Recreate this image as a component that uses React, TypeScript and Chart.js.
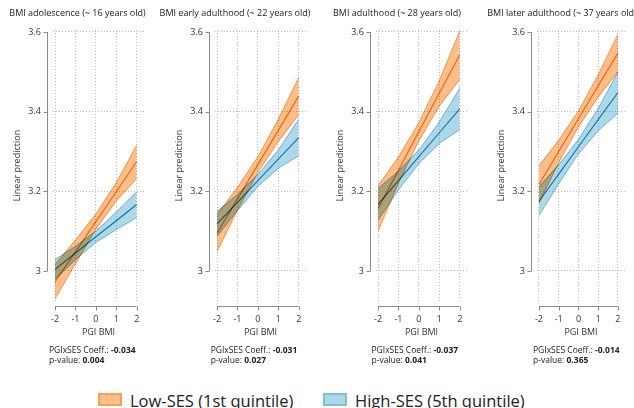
import React, { useEffect, useRef } from "react";
import { Chart, registerables } from "chart.js";
Chart.register(...registerables);

// ---------- data ----------
const pgiValues = [-2, -1, 0, 1, 2];
const xTicks = [-2, -1, 0, 1, 2];
const yTicks = [3, 3.2, 3.4, 3.6];

const panelTitles = [
  "BMI adolescence (~ 16 years old)",
  "BMI early adulthood (~ 22 years old)",
  "BMI adulthood (~ 28 years old)",
  "BMI later adulthood (~ 37 years old)",
];
const coeffs = ["-0.034", "-0.031", "-0.037", "-0.014"];
const pValues = ["0.004", "0.027", "0.041", "0.365"];
const seriesNames = ["Low-SES (1st quintile)", "High-SES (5th quintile)"];

// adolescence (~16)
const low16 = [2.973, 3.048, 3.124, 3.199, 3.275];
const low16Lo = [2.93, 3.018, 3.105, 3.176, 3.232];
const low16Hi = [3.016, 3.078, 3.143, 3.222, 3.316];
const high16 = [3.004, 3.045, 3.086, 3.126, 3.167];
const high16Lo = [2.979, 3.028, 3.072, 3.104, 3.134];
const high16Hi = [3.029, 3.062, 3.1, 3.148, 3.199];

// early adulthood (~22)
const low22 = [3.095, 3.181, 3.267, 3.353, 3.439];
const low22Lo = [3.049, 3.152, 3.247, 3.325, 3.392];
const low22Hi = [3.141, 3.21, 3.287, 3.381, 3.486];
const high22 = [3.118, 3.172, 3.227, 3.281, 3.335];
const high22Lo = [3.087, 3.152, 3.212, 3.258, 3.289];
const high22Hi = [3.149, 3.192, 3.242, 3.304, 3.381];

// adulthood (~28)
const low28 = [3.157, 3.253, 3.35, 3.446, 3.542];
const low28Lo = [3.1, 3.22, 3.327, 3.414, 3.481];
const low28Hi = [3.214, 3.286, 3.373, 3.478, 3.603];
const high28 = [3.167, 3.227, 3.287, 3.347, 3.407];
const high28Lo = [3.127, 3.203, 3.27, 3.32, 3.355];
const high28Hi = [3.207, 3.251, 3.304, 3.374, 3.459];

// later adulthood (~37)
const low37 = [3.217, 3.3, 3.382, 3.465, 3.547];
const low37Lo = [3.17, 3.272, 3.362, 3.437, 3.5];
const low37Hi = [3.264, 3.328, 3.402, 3.493, 3.594];
const high37 = [3.175, 3.243, 3.312, 3.38, 3.448];
const high37Lo = [3.139, 3.219, 3.294, 3.352, 3.396];
const high37Hi = [3.211, 3.267, 3.33, 3.408, 3.5];

const panelData = [
  { low: low16, lowLo: low16Lo, lowHi: low16Hi, high: high16, highLo: high16Lo, highHi: high16Hi },
  { low: low22, lowLo: low22Lo, lowHi: low22Hi, high: high22, highLo: high22Lo, highHi: high22Hi },
  { low: low28, lowLo: low28Lo, lowHi: low28Hi, high: high28, highLo: high28Lo, highHi: high28Hi },
  { low: low37, lowLo: low37Lo, lowHi: low37Hi, high: high37, highLo: high37Lo, highHi: high37Hi },
];

// ---------- style ----------
const FONT = "'Open Sans', 'Noto Sans', sans-serif";
const ORANGE_FILL = "rgb(253,190,135)";
const ORANGE_EDGE = "rgb(248,160,88)";
const ORANGE_LINE = "rgb(242,127,30)";
const BLUE_FILL = "rgb(172,216,232)";
const BLUE_EDGE = "rgb(125,192,218)";
const BLUE_LINE = "rgb(28,135,186)";
const PANEL_X = [0, 161.7, 322.5, 484];
const CANVAS_H = 345;

const pts = (ys: number[]) => pgiValues.map((x, i) => ({ x, y: ys[i] }));

const multiplyPlugin = {
  id: "multiply",
  beforeDatasetsDraw(chart: any) {
    chart.ctx.save();
    chart.ctx.globalCompositeOperation = "multiply";
  },
  afterDatasetsDraw(chart: any) {
    chart.ctx.restore();
  },
};

const axesPlugin = {
  id: "stataAxes",
  afterDraw(chart: any) {
    const { ctx, chartArea, scales } = chart;
    const xs = scales.x;
    const ys = scales.y;
    ctx.save();
    ctx.strokeStyle = "#8a8a8a";
    ctx.lineWidth = 1;
    const ax = Math.round(chartArea.left - 6) + 0.5;
    const yTop = ys.getPixelForValue(yTicks[yTicks.length - 1]);
    const yBot = ys.getPixelForValue(yTicks[0]);
    ctx.beginPath();
    ctx.moveTo(ax, yTop);
    ctx.lineTo(ax, yBot);
    yTicks.forEach((v) => {
      const p = Math.round(ys.getPixelForValue(v)) + 0.5;
      ctx.moveTo(ax, p);
      ctx.lineTo(ax - 4, p);
    });
    const ay = Math.round(chartArea.bottom + 5) + 0.5;
    const xL = xs.getPixelForValue(xTicks[0]);
    const xR = xs.getPixelForValue(xTicks[xTicks.length - 1]);
    ctx.moveTo(xL, ay);
    ctx.lineTo(xR, ay);
    xTicks.forEach((v) => {
      const p = Math.round(xs.getPixelForValue(v)) + 0.5;
      ctx.moveTo(p, ay);
      ctx.lineTo(p, ay + 4);
    });
    ctx.stroke();
    ctx.restore();
  },
};

function Panel({ index }: { index: number }) {
  const ref = useRef<HTMLCanvasElement>(null);
  const width = index === 3 ? 150 : 160;
  useEffect(() => {
    const d = panelData[index];
    const band = (ys: number[], edge: string, fill: any, bg?: string) => ({
      data: pts(ys),
      borderColor: edge,
      borderWidth: 0.8,
      backgroundColor: bg || "transparent",
      pointRadius: 0,
      fill,
      order: 1,
      tension: 0,
    });
    const gridOpts = { color: "#bdbdbd", drawTicks: false, lineWidth: 1 };
    const borderOpts = { display: false, dash: [1, 2] };
    const chart = new Chart(ref.current!, {
      type: "line",
      data: {
        datasets: [
          band(d.lowHi, ORANGE_EDGE, false),
          band(d.lowLo, ORANGE_EDGE, "-1", ORANGE_FILL),
          band(d.highHi, BLUE_EDGE, false),
          band(d.highLo, BLUE_EDGE, "-1", BLUE_FILL),
          { data: pts(d.low), borderColor: ORANGE_LINE, borderWidth: 1.1, pointRadius: 0, fill: false, order: 0 },
          { data: pts(d.high), borderColor: BLUE_LINE, borderWidth: 1.1, pointRadius: 0, fill: false, order: 0 },
        ] as any,
      },
      options: {
        animation: false,
        responsive: false,
        maintainAspectRatio: false,
        devicePixelRatio: 1,
        layout: { padding: { top: 30, right: width - 144, bottom: 0, left: 0 } },
        plugins: { legend: { display: false }, tooltip: { enabled: false }, title: { display: false } },
        scales: {
          x: {
            type: "linear",
            min: -2.1,
            max: 2.357,
            afterBuildTicks: (s: any) => {
              s.ticks = xTicks.map((v) => ({ value: v }));
            },
            afterFit: (s: any) => {
              s.height = 44;
            },
            grid: gridOpts,
            border: borderOpts,
            ticks: {
              padding: 13,
              color: "#333",
              font: { family: FONT, size: 9 },
              maxRotation: 0,
              callback: (v: any) => String(v),
            },
            title: {
              display: true,
              text: "PGI BMI",
              color: "#333",
              font: { family: FONT, size: 9 },
              padding: { top: 0, bottom: 7.6 },
            },
          },
          y: {
            type: "linear",
            min: 2.9246,
            max: 3.605,
            afterBuildTicks: (s: any) => {
              s.ticks = yTicks.map((v) => ({ value: v }));
            },
            afterFit: (s: any) => {
              s.width = 53;
            },
            grid: gridOpts,
            border: borderOpts,
            ticks: {
              padding: 12,
              color: "#333",
              font: { family: FONT, size: 9 },
              callback: (v: any) => (v === 3 ? "3" : Number(v).toFixed(1)),
            },
            title: {
              display: true,
              text: "Linear prediction",
              color: "#333",
              font: { family: FONT, size: 9 },
              padding: { top: 11.6, bottom: 0 },
            },
          },
        },
      } as any,
      plugins: [multiplyPlugin, axesPlugin],
    });
    return () => chart.destroy();
  }, [index]);
  return (
    <canvas
      ref={ref}
      width={width}
      height={CANVAS_H}
      style={{ position: "absolute", left: PANEL_X[index], top: 0, width, height: CANVAS_H }}
    />
  );
}

const titleCenters = [77.5, 235, 397, 562];

export default function App() {
  const txt: React.CSSProperties = { position: "absolute", fontFamily: FONT, color: "#222", whiteSpace: "nowrap", lineHeight: "10px" };
  return (
    <div style={{ position: "absolute", left: 0, top: 0, width: 634, height: 408, background: "#fff", overflow: "hidden" }}>
      {[0, 1, 2, 3].map((i) => (
        <Panel key={"p" + i} index={i} />
      ))}
      {panelTitles.map((t, i) => (
        <div key={"t" + i} style={{ ...txt, fontSize: 9, top: 8, left: titleCenters[i], transform: "translateX(-50%)" }}>
          {t}
        </div>
      ))}
      {coeffs.map((c, i) => (
        <div key={"c" + i} style={{ ...txt, fontSize: 8.5, top: 344.5, left: PANEL_X[i] + 49 }}>
          <div>
            PGIxSES Coeff.: <b>{c}</b>
          </div>
          <div>
            p-value: <b>{pValues[i]}</b>
          </div>
        </div>
      ))}
      {seriesNames.map((n, i) => (
        <div key={"l" + i} style={{ ...txt, top: 391, left: i === 0 ? 98 : 323, fontSize: 16.5, lineHeight: "20px", color: "#222" }}>
          <span
            style={{
              display: "inline-block",
              width: 20,
              height: 9,
              background: i === 0 ? ORANGE_FILL : BLUE_FILL,
              border: `2px solid ${i === 0 ? ORANGE_EDGE : BLUE_EDGE}`,
              marginRight: 8,
              verticalAlign: "1px",
            }}
          />
          {n}
        </div>
      ))}
    </div>
  );
}
